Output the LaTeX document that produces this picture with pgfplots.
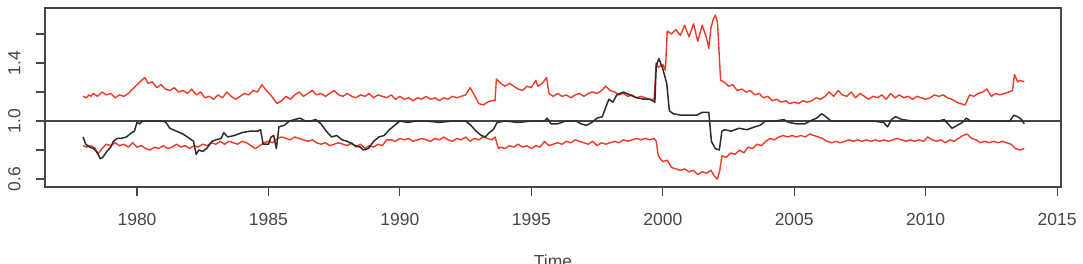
\documentclass[border=0pt]{standalone}
\usepackage{pgfplots}
\pgfplotsset{compat=1.18}
\usepackage{fontspec}
\setmainfont{Liberation Sans}
\definecolor{rred}{RGB}{238,58,40}
\definecolor{rblack}{RGB}{45,45,45}
\definecolor{rgrey}{RGB}{70,70,70}
\begin{document}
\begin{tikzpicture}
\useasboundingbox (-45pt,-76pt) rectangle (1038pt,187pt);
\begin{axis}[
  at={(0pt,0pt)}, anchor=south west,
  scale only axis, width=1016pt, height=179pt,
  xmin=1976.5, xmax=2015.15,
  ymin=0.545, ymax=1.779,
  axis line style={rgrey, line width=1.2pt},
  tick style={rgrey, line width=1.1pt},
  tick align=outside, major tick length=9pt,
  xtick pos=bottom, ytick pos=left,
  xtick={1980,1985,1990,1995,2000,2005,2010,2015},
  xticklabels={1980,1985,1990,1995,2000,2005,2010,2015},
  ytick={0.6,0.8,1.0,1.2,1.4,1.6},
  yticklabels={0.6,,1.0,,1.4,},
  tick label style={font=\fontsize{17.5pt}{20pt}\selectfont, text=rgrey},
  xticklabel style={yshift=-14pt},
  yticklabel style={rotate=90, anchor=south},
  yticklabel shift=12pt,
  xlabel={Time},
  xlabel style={font=\fontsize{17.5pt}{20pt}\selectfont, text=rgrey, at={(rel axis cs:0.5,0)}, anchor=north, yshift=-64pt},
  clip=true,
]
\addplot[rgrey, line width=1.5pt, forget plot] coordinates {(1976,1.0) (2016,1.0)};
% upper band
\addplot[rred, line width=1.4pt, line join=round] coordinates {
(1977.95,1.17)(1978.08,1.16)(1978.17,1.18)(1978.25,1.17)(1978.33,1.19)(1978.5,1.17)(1978.67,1.20)(1978.83,1.18)
(1979.0,1.19)(1979.17,1.16)(1979.33,1.18)(1979.5,1.17)(1979.67,1.19)(1979.83,1.22)(1980.0,1.25)(1980.17,1.28)
(1980.3,1.30)(1980.42,1.26)(1980.58,1.27)(1980.75,1.23)(1980.92,1.25)(1981.08,1.22)(1981.25,1.21)(1981.42,1.23)
(1981.58,1.20)(1981.75,1.21)(1981.92,1.19)(1982.08,1.22)(1982.25,1.18)(1982.42,1.20)(1982.58,1.16)(1982.75,1.17)
(1982.92,1.15)(1983.08,1.18)(1983.25,1.16)(1983.42,1.20)(1983.58,1.17)(1983.75,1.15)(1983.92,1.17)(1984.08,1.19)
(1984.25,1.18)(1984.42,1.21)(1984.58,1.20)(1984.75,1.25)(1984.92,1.21)(1985.08,1.18)(1985.25,1.14)(1985.33,1.12)
(1985.5,1.14)(1985.67,1.17)(1985.83,1.15)(1986.0,1.18)(1986.17,1.20)(1986.33,1.17)(1986.5,1.19)(1986.67,1.21)
(1986.83,1.18)(1987.0,1.19)(1987.17,1.17)(1987.33,1.19)(1987.5,1.21)(1987.67,1.18)(1987.83,1.17)(1988.0,1.19)
(1988.17,1.17)(1988.33,1.16)(1988.5,1.18)(1988.67,1.17)(1988.83,1.19)(1989.0,1.16)(1989.17,1.18)(1989.33,1.17)
(1989.5,1.16)(1989.67,1.18)(1989.83,1.15)(1990.0,1.17)(1990.17,1.15)(1990.33,1.16)(1990.5,1.14)(1990.67,1.16)
(1990.83,1.15)(1991.0,1.17)(1991.17,1.15)(1991.33,1.16)(1991.5,1.14)(1991.67,1.16)(1991.83,1.15)(1992.0,1.17)
(1992.17,1.16)(1992.33,1.17)(1992.5,1.18)(1992.67,1.23)(1992.83,1.18)(1993.0,1.12)(1993.17,1.11)(1993.33,1.13)
(1993.5,1.14)(1993.62,1.14)(1993.67,1.29)(1993.83,1.26)(1994.0,1.24)(1994.17,1.26)(1994.33,1.24)(1994.5,1.22)
(1994.67,1.21)(1994.83,1.24)(1995.0,1.23)(1995.17,1.28)(1995.25,1.24)(1995.42,1.26)(1995.58,1.30)(1995.67,1.19)
(1995.83,1.17)(1996.0,1.19)(1996.17,1.17)(1996.33,1.18)(1996.5,1.16)(1996.67,1.18)(1996.83,1.19)(1997.0,1.17)
(1997.17,1.19)(1997.33,1.20)(1997.5,1.19)(1997.67,1.21)(1997.83,1.24)(1998.0,1.21)(1998.17,1.20)(1998.33,1.18)
(1998.5,1.19)(1998.67,1.17)(1998.83,1.18)(1999.0,1.16)(1999.17,1.17)(1999.33,1.16)(1999.5,1.15)(1999.67,1.15)
(1999.75,1.40)(1999.83,1.37)(2000.0,1.39)(2000.1,1.35)(2000.17,1.62)(2000.33,1.60)(2000.5,1.63)(2000.67,1.59)
(2000.83,1.66)(2001.0,1.58)(2001.17,1.67)(2001.33,1.55)(2001.5,1.66)(2001.67,1.57)(2001.75,1.50)(2001.83,1.64)
(2001.92,1.70)(2002.0,1.73)(2002.08,1.68)(2002.2,1.28)(2002.33,1.27)(2002.5,1.24)(2002.67,1.25)(2002.83,1.21)
(2003.0,1.22)(2003.17,1.20)(2003.33,1.21)(2003.5,1.18)(2003.67,1.19)(2003.83,1.16)(2004.0,1.17)(2004.17,1.14)
(2004.33,1.15)(2004.5,1.13)(2004.67,1.14)(2004.83,1.12)(2005.0,1.13)(2005.17,1.12)(2005.33,1.14)(2005.5,1.13)
(2005.67,1.14)(2005.83,1.16)(2006.0,1.15)(2006.17,1.17)(2006.33,1.20)(2006.5,1.17)(2006.67,1.21)(2006.83,1.18)
(2007.0,1.17)(2007.17,1.20)(2007.33,1.16)(2007.5,1.19)(2007.67,1.17)(2007.83,1.15)(2008.0,1.17)(2008.17,1.16)
(2008.33,1.18)(2008.5,1.15)(2008.67,1.19)(2008.83,1.16)(2009.0,1.18)(2009.17,1.16)(2009.33,1.17)(2009.5,1.15)
(2009.67,1.17)(2009.83,1.16)(2010.0,1.15)(2010.17,1.16)(2010.33,1.18)(2010.5,1.17)(2010.67,1.18)(2010.83,1.16)
(2011.0,1.15)(2011.17,1.13)(2011.33,1.12)(2011.5,1.11)(2011.67,1.18)(2011.83,1.17)(2012.0,1.19)(2012.17,1.20)
(2012.33,1.22)(2012.5,1.17)(2012.67,1.19)(2012.83,1.18)(2013.0,1.19)(2013.17,1.20)(2013.3,1.21)(2013.38,1.32)
(2013.5,1.27)(2013.58,1.28)(2013.75,1.27)
};
% lower band
\addplot[rred, line width=1.4pt, line join=round] coordinates {
(1977.95,0.83)(1978.08,0.82)(1978.25,0.83)(1978.42,0.81)(1978.5,0.77)(1978.67,0.81)(1978.83,0.84)(1979.0,0.83)
(1979.17,0.85)(1979.33,0.83)(1979.5,0.84)(1979.67,0.82)(1979.83,0.85)(1980.0,0.82)(1980.17,0.83)(1980.33,0.81)
(1980.5,0.80)(1980.67,0.82)(1980.83,0.81)(1981.0,0.83)(1981.17,0.81)(1981.33,0.82)(1981.5,0.84)(1981.67,0.82)
(1981.83,0.83)(1982.0,0.81)(1982.17,0.83)(1982.33,0.82)(1982.5,0.84)(1982.67,0.83)(1982.83,0.85)(1983.0,0.84)
(1983.17,0.86)(1983.33,0.84)(1983.5,0.86)(1983.67,0.85)(1983.83,0.84)(1984.0,0.86)(1984.17,0.85)(1984.33,0.83)
(1984.5,0.81)(1984.67,0.83)(1984.83,0.85)(1985.0,0.86)(1985.17,0.85)(1985.33,0.88)(1985.5,0.89)(1985.67,0.88)
(1985.83,0.87)(1986.0,0.89)(1986.17,0.88)(1986.33,0.87)(1986.5,0.86)(1986.67,0.87)(1986.83,0.85)(1987.0,0.84)
(1987.17,0.85)(1987.33,0.83)(1987.5,0.84)(1987.67,0.85)(1987.83,0.84)(1988.0,0.83)(1988.17,0.85)(1988.33,0.82)
(1988.5,0.84)(1988.67,0.81)(1988.83,0.83)(1989.0,0.82)(1989.17,0.84)(1989.33,0.83)(1989.5,0.87)(1989.67,0.87)
(1989.83,0.86)(1990.0,0.88)(1990.17,0.87)(1990.33,0.88)(1990.5,0.86)(1990.67,0.87)(1990.83,0.88)(1991.0,0.87)
(1991.17,0.86)(1991.33,0.88)(1991.5,0.87)(1991.67,0.89)(1991.83,0.87)(1992.0,0.86)(1992.17,0.88)(1992.33,0.87)
(1992.5,0.89)(1992.67,0.86)(1992.83,0.88)(1993.0,0.87)(1993.17,0.89)(1993.33,0.88)(1993.5,0.87)(1993.62,0.89)
(1993.75,0.81)(1993.83,0.82)(1994.0,0.81)(1994.17,0.83)(1994.33,0.82)(1994.5,0.84)(1994.67,0.82)(1994.83,0.83)
(1995.0,0.81)(1995.17,0.83)(1995.33,0.82)(1995.5,0.86)(1995.67,0.83)(1995.83,0.84)(1996.0,0.85)(1996.17,0.84)
(1996.33,0.86)(1996.5,0.85)(1996.67,0.87)(1996.83,0.86)(1997.0,0.85)(1997.17,0.84)(1997.33,0.86)(1997.5,0.83)
(1997.67,0.85)(1997.83,0.84)(1998.0,0.85)(1998.17,0.86)(1998.33,0.85)(1998.5,0.87)(1998.67,0.86)(1998.83,0.87)
(1999.0,0.88)(1999.17,0.87)(1999.33,0.88)(1999.5,0.87)(1999.67,0.88)(1999.75,0.86)(1999.83,0.76)(2000.0,0.72)
(2000.17,0.73)(2000.33,0.68)(2000.5,0.67)(2000.67,0.66)(2000.83,0.67)(2001.0,0.65)(2001.17,0.66)(2001.33,0.63)
(2001.5,0.65)(2001.67,0.64)(2001.83,0.66)(2002.0,0.61)(2002.08,0.60)(2002.17,0.66)(2002.25,0.76)(2002.42,0.75)
(2002.58,0.78)(2002.75,0.77)(2002.92,0.80)(2003.08,0.78)(2003.25,0.82)(2003.42,0.81)(2003.58,0.84)(2003.75,0.83)
(2003.92,0.86)(2004.08,0.88)(2004.25,0.87)(2004.42,0.89)(2004.58,0.90)(2004.75,0.89)(2004.92,0.90)(2005.08,0.89)
(2005.25,0.90)(2005.42,0.89)(2005.58,0.91)(2005.75,0.90)(2005.92,0.89)(2006.08,0.88)(2006.25,0.86)(2006.42,0.85)
(2006.58,0.86)(2006.75,0.85)(2006.92,0.86)(2007.08,0.87)(2007.25,0.86)(2007.42,0.87)(2007.58,0.86)(2007.75,0.87)
(2007.92,0.86)(2008.08,0.87)(2008.25,0.86)(2008.42,0.87)(2008.58,0.86)(2008.75,0.87)(2008.92,0.88)(2009.08,0.87)
(2009.25,0.86)(2009.42,0.87)(2009.58,0.86)(2009.75,0.87)(2009.92,0.86)(2010.08,0.89)(2010.25,0.87)(2010.42,0.86)
(2010.58,0.87)(2010.75,0.85)(2010.92,0.87)(2011.08,0.86)(2011.25,0.88)(2011.42,0.90)(2011.58,0.91)(2011.75,0.88)
(2011.92,0.87)(2012.08,0.85)(2012.25,0.86)(2012.42,0.85)(2012.58,0.86)(2012.75,0.85)(2012.92,0.86)(2013.08,0.85)
(2013.25,0.84)(2013.42,0.81)(2013.58,0.80)(2013.75,0.81)
};
% estimate
\addplot[rblack, line width=1.5pt, line join=round] coordinates {
(1977.95,0.89)(1978.05,0.84)(1978.2,0.82)(1978.35,0.81)(1978.5,0.78)(1978.6,0.74)(1978.7,0.75)(1978.85,0.79)
(1979.0,0.82)(1979.1,0.86)(1979.25,0.88)(1979.4,0.88)(1979.6,0.89)(1979.8,0.92)(1979.9,0.93)(1980.0,0.99)
(1980.1,0.98)(1980.2,1.0)(1980.6,1.0)(1981.0,1.0)(1981.1,0.99)(1981.25,0.95)(1981.5,0.93)(1981.75,0.91)
(1982.0,0.88)(1982.15,0.86)(1982.25,0.77)(1982.35,0.80)(1982.5,0.79)(1982.65,0.81)(1982.85,0.86)(1983.0,0.87)
(1983.2,0.88)(1983.3,0.92)(1983.45,0.89)(1983.7,0.90)(1984.0,0.92)(1984.3,0.93)(1984.6,0.93)(1984.7,0.94)
(1984.8,0.84)(1985.0,0.84)(1985.1,0.89)(1985.2,0.90)(1985.3,0.81)(1985.4,0.96)(1985.6,0.97)(1985.8,1.0)
(1986.0,1.01)(1986.2,1.02)(1986.4,1.00)(1986.6,1.0)(1986.8,1.01)(1987.0,0.98)(1987.2,0.93)(1987.4,0.89)
(1987.6,0.90)(1987.8,0.87)(1988.0,0.86)(1988.3,0.83)(1988.5,0.82)(1988.6,0.80)(1988.8,0.81)(1989.0,0.86)
(1989.2,0.89)(1989.4,0.90)(1989.6,0.94)(1989.8,0.97)(1990.0,1.0)(1990.3,0.99)(1990.6,1.0)(1991.0,1.0)
(1991.5,0.99)(1992.0,1.0)(1992.5,1.0)(1992.7,0.97)(1992.9,0.93)(1993.1,0.90)(1993.25,0.89)(1993.4,0.92)
(1993.55,0.94)(1993.7,0.99)(1994.0,1.0)(1994.5,0.99)(1995.0,1.0)(1995.5,1.0)(1995.6,1.02)(1995.75,0.98)
(1996.0,0.98)(1996.3,1.0)(1996.7,1.0)(1996.9,0.98)(1997.1,0.97)(1997.3,0.99)(1997.5,1.02)(1997.7,1.03)
(1997.8,1.08)(1997.95,1.15)(1998.1,1.13)(1998.25,1.18)(1998.5,1.20)(1998.75,1.18)(1999.0,1.16)(1999.3,1.15)
(1999.5,1.15)(1999.7,1.13)(1999.75,1.38)(1999.85,1.43)(2000.0,1.36)(2000.15,1.26)(2000.25,1.07)(2000.4,1.05)
(2000.7,1.04)(2001.0,1.04)(2001.3,1.04)(2001.5,1.06)(2001.75,1.06)(2001.85,0.86)(2002.0,0.81)(2002.15,0.80)
(2002.25,0.93)(2002.35,0.94)(2002.6,0.93)(2002.9,0.95)(2003.2,0.94)(2003.5,0.96)(2003.7,0.97)(2003.9,1.00)
(2004.3,1.0)(2004.6,1.01)(2004.8,0.99)(2005.1,0.98)(2005.4,0.98)(2005.6,1.0)(2005.85,1.02)(2006.05,1.05)
(2006.2,1.03)(2006.4,1.0)(2007.0,1.0)(2008.0,1.0)(2008.4,0.99)(2008.55,0.96)(2008.7,1.01)(2008.85,1.03)
(2009.1,1.01)(2009.5,1.0)(2010.5,1.0)(2010.7,1.01)(2010.85,0.98)(2011.0,0.95)(2011.2,0.97)(2011.4,0.99)
(2011.55,1.02)(2011.7,1.0)(2012.5,1.0)(2013.2,1.0)(2013.35,1.04)(2013.5,1.03)(2013.65,1.01)(2013.75,0.98)
};
\end{axis}
\end{tikzpicture}
\end{document}
